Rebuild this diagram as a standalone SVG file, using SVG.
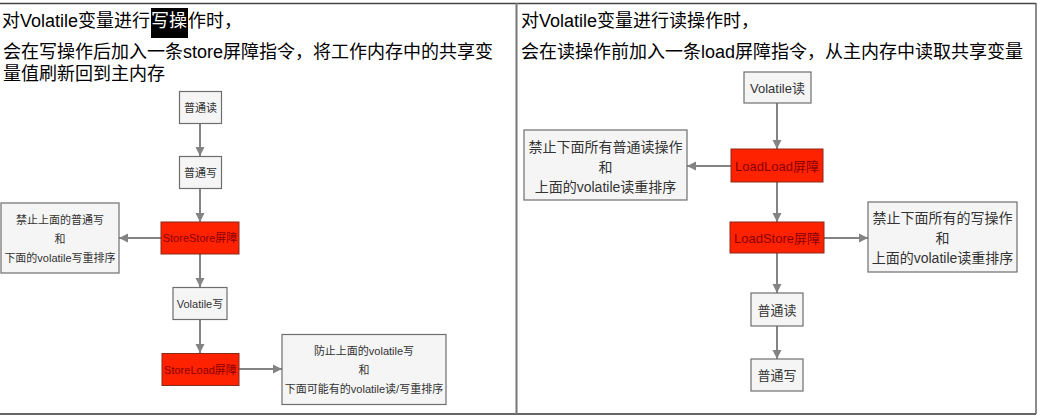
<svg xmlns="http://www.w3.org/2000/svg" width="1043" height="418" viewBox="0 0 1043 418">
<style>
.hd{font-family:"Liberation Sans","Noto Sans CJK SC",sans-serif;font-size:18px;fill:#000}
.box{fill:#f5f5f5;stroke:#6e6e6e;stroke-width:1.2}
.red{fill:#ff2200;stroke:#8a2a1a;stroke-width:1}
.t{font-family:"Liberation Sans","Noto Sans CJK SC",sans-serif;font-size:11px;fill:#333;text-anchor:middle;dominant-baseline:central}
.tr{font-family:"Liberation Sans","Noto Sans CJK SC",sans-serif;font-size:11px;fill:#8a0000;text-anchor:middle;dominant-baseline:central}
.t2{font-size:13px}
.t3{font-size:14px}
.c{stroke:#838383;stroke-width:2;fill:none;marker-end:url(#ah)}
</style>
<defs>
<marker id="ah" markerWidth="10" markerHeight="10" refX="9" refY="5" orient="auto" markerUnits="userSpaceOnUse">
<path d="M0,0.5 L9,5 L0,9.5 Z" fill="#838383"/>
</marker>
</defs>
<rect x="0" y="0" width="1043" height="418" fill="#fff"/>
<g id="table" stroke="#444" fill="none">
<line x1="0" y1="3.5" x2="1036" y2="3.5" stroke-width="1.5"/>
<line x1="0" y1="414" x2="1036" y2="414" stroke-width="2" stroke="#666"/>
<line x1="516.5" y1="3" x2="516.5" y2="414" stroke-width="2" stroke="#777"/>
<line x1="1036" y1="3" x2="1036" y2="414" stroke-width="1.5" stroke="#666"/>
</g>
<g id="header-left">
<text class="hd" x="2" y="27">对Volatile变量进行</text>
<rect x="151" y="8" width="37" height="30" fill="#000"/>
<text class="hd" x="151" y="27" style="fill:#fff">写操</text>
<text class="hd" x="188" y="27">作时，</text>
<text class="hd" x="3" y="58">会在写操作后加入一条store屏障指令，将工作内存中的共享变</text>
<text class="hd" x="3" y="80">量值刷新回到主内存</text>
</g>
<g id="header-right">
<text class="hd" x="521" y="27">对Volatile变量进行读操作时，</text>
<text class="hd" x="521" y="58">会在读操作前加入一条load屏障指令，从主内存中读取共享变量</text>
</g>
<g id="connectors">
<line class="c" x1="200" y1="123" x2="200" y2="156"/>
<line class="c" x1="200" y1="189" x2="200" y2="222"/>
<line class="c" x1="200" y1="254" x2="200" y2="287"/>
<line class="c" x1="200" y1="320" x2="200" y2="353"/>
<line class="c" x1="161" y1="238" x2="119" y2="238"/>
<line class="c" x1="239" y1="369" x2="282" y2="369"/>
<line class="c" x1="777" y1="103" x2="777" y2="149"/>
<line class="c" x1="777" y1="182" x2="777" y2="222"/>
<line class="c" x1="777" y1="253" x2="777" y2="293"/>
<line class="c" x1="777" y1="326" x2="777" y2="359"/>
<line class="c" x1="731" y1="166" x2="687" y2="166"/>
<line class="c" x1="824" y1="238" x2="868" y2="238"/>
</g>
<g id="n-l-read"><rect class="box" x="179.5" y="91.5" width="42" height="32"/><text class="t" x="200.5" y="107.5">普通读</text></g>
<g id="n-l-write"><rect class="box" x="179.5" y="156.5" width="42" height="32"/><text class="t" x="200.5" y="172.5">普通写</text></g>
<g id="n-storestore"><rect class="red" x="161" y="222" width="78" height="32"/><text class="tr" x="200" y="238">StoreStore屏障</text></g>
<g id="n-ss-desc"><rect class="box" x="1" y="203" width="118" height="70"/>
<text class="t" x="60" y="219.5">禁止上面的普通写</text><text class="t" x="60" y="238.5">和</text><text class="t" x="60" y="257.5">下面的volatile写重排序</text></g>
<g id="n-vwrite"><rect class="box" x="173" y="287.5" width="54" height="32"/><text class="t" x="200" y="303.5">Volatile写</text></g>
<g id="n-storeload"><rect class="red" x="162" y="353.5" width="77" height="32"/><text class="tr" x="200.5" y="369.5">StoreLoad屏障</text></g>
<g id="n-sl-desc"><rect class="box" x="282" y="334.5" width="164" height="70"/>
<text class="t" x="364" y="350.5">防止上面的volatile写</text><text class="t" x="364" y="369.5">和</text><text class="t" x="364" y="388.5">下面可能有的volatile读/写重排序</text></g>
<g id="n-vread"><rect class="box" x="744" y="72" width="67" height="31"/><text class="t t2" x="777.5" y="88">Volatile读</text></g>
<g id="n-loadload"><rect class="red" x="731" y="149" width="92" height="33"/><text class="tr t2" x="777" y="166">LoadLoad屏障</text></g>
<g id="n-ll-desc"><rect class="box" x="524" y="130" width="163" height="70"/>
<text class="t t3" x="605.5" y="146.5">禁止下面所有普通读操作</text><text class="t t3" x="605.5" y="166.5">和</text><text class="t t3" x="605.5" y="186.5">上面的volatile读重排序</text></g>
<g id="n-loadstore"><rect class="red" x="730" y="222" width="94" height="31"/><text class="tr t2" x="777" y="238">LoadStore屏障</text></g>
<g id="n-ls-desc"><rect class="box" x="868" y="202" width="149" height="70"/>
<text class="t t3" x="942.5" y="218">禁止下面所有的写操作</text><text class="t t3" x="942.5" y="238">和</text><text class="t t3" x="942.5" y="258">上面的volatile读重排序</text></g>
<g id="n-r-read"><rect class="box" x="751" y="293" width="52" height="33"/><text class="t t2" x="777" y="310">普通读</text></g>
<g id="n-r-write"><rect class="box" x="751" y="359" width="52" height="32"/><text class="t t2" x="777" y="375.5">普通写</text></g>
</svg>
